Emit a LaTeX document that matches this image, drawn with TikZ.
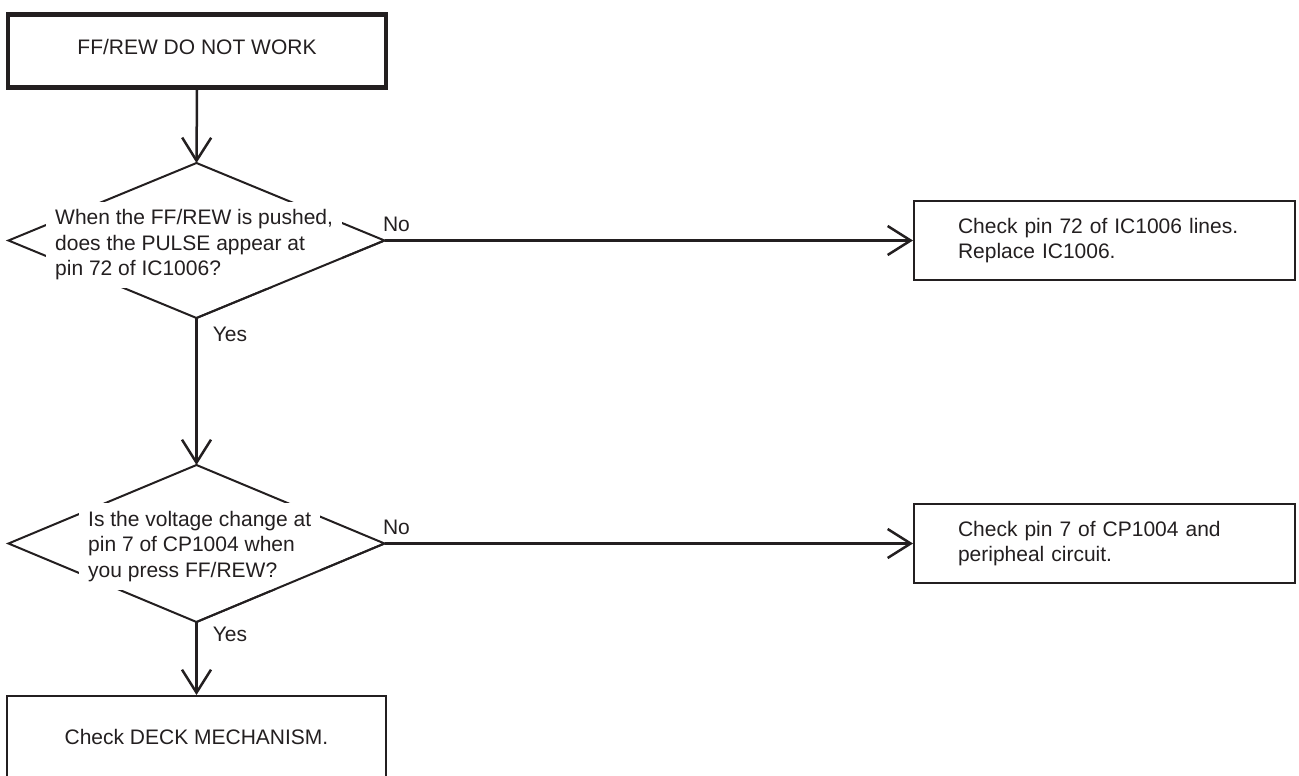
\documentclass[tikz,border=0pt]{standalone}
\usepackage{fontspec}
\setmainfont{Liberation Sans}
\usetikzlibrary{shapes.geometric,arrows.meta}
\definecolor{ink}{RGB}{35,31,32}
\begin{document}
\begin{tikzpicture}[x=1pt,y=-1pt,
  txt/.style={font=\fontsize{21}{25.5}\selectfont, text=ink},
  box/.style={draw=ink, line width=2pt, rectangle, inner sep=0pt, txt},
  dec/.style={diamond, draw=ink, line width=2pt, inner sep=0pt, outer sep=0pt},
  qtext/.style={txt, fill=white, align=left, inner xsep=9pt, inner ysep=8pt},
  lbl/.style={txt, inner sep=0pt},
  conn/.style={draw=ink, line width=2.5pt, -{Straight Barb[length=23pt,width=29pt]}},
  edgeline/.style={draw=ink, line width=2pt, line cap=round}
]
\useasboundingbox (0,0) rectangle (1299,776);
\clip (0,0) rectangle (1299,776);

\node[box, line width=4.5pt, minimum width=378pt, minimum height=73pt, text depth=8pt] (start) at (197,51) {FF/REW DO NOT WORK};

\node[dec, minimum width=376pt, minimum height=155pt] (d1) at (196.5,240.5) {};
\node[qtext, anchor=west] (q1) at (46,245) {When the FF/REW is pushed,\\does the PULSE appear at\\pin 72 of IC1006?};
\draw[edgeline] (d1.east) -- (d1.south);

\node[dec, minimum width=376pt, minimum height=157pt] (d2) at (196.5,543.5) {};
\node[qtext, anchor=west] (q2) at (79,546.5) {Is the voltage change at\\pin 7 of CP1004 when\\you press FF/REW?};
\draw[edgeline] (d2.east) -- (d2.south);

\node[box, minimum width=381pt, minimum height=79pt, text width=293pt, inner xsep=44pt, align=left] (r1) at (1104.5,240.5) {Check pin 72 of IC1006 lines.\\Replace IC1006.};
\node[box, minimum width=381pt, minimum height=79pt, text width=293pt, inner xsep=44pt, align=left] (r2) at (1104.5,543.5) {Check pin 7 of CP1004 and\\peripheal circuit.};
\node[box, minimum width=379pt, minimum height=81pt] (end) at (196.5,736.5) {Check DECK MECHANISM.};

\draw[conn] (start.south) -- (d1.north);
\draw[conn] (d1.east) -- (r1.west);
\draw[conn] (d1.south) -- (d2.north);
\draw[conn] (d2.east) -- (r2.west);
\draw[conn] (d2.south) -- (end.north);

\node[lbl] (no1) at (396.5,224) {No};
\node[lbl] (yes1) at (230,334.5) {Yes};
\node[lbl] (no2) at (396.5,527.5) {No};
\node[lbl] (yes2) at (230,634.5) {Yes};
\end{tikzpicture}
\end{document}
